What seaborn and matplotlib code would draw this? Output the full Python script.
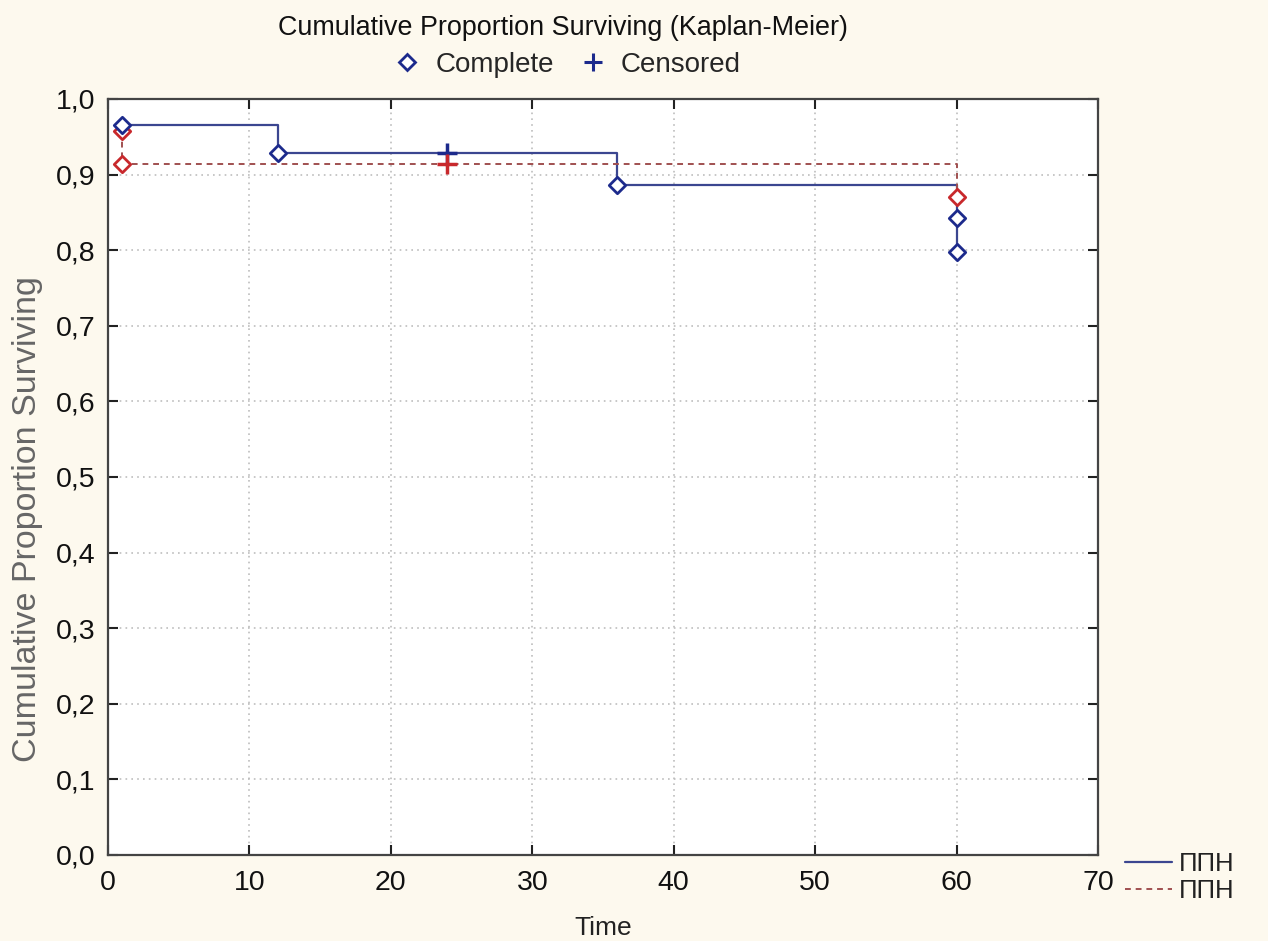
import matplotlib
matplotlib.use("Agg")
import matplotlib.pyplot as plt
from matplotlib.lines import Line2D
import seaborn as sns
import pandas as pd

# ---- data ----
blue_time = [1, 12, 36, 60, 60]
blue_surv = [0.966, 0.928, 0.886, 0.842, 0.797]
blue_complete_time = [1, 12, 36, 60, 60]
blue_complete_surv = [0.966, 0.928, 0.886, 0.842, 0.797]
blue_censored_time = [24]
blue_censored_surv = [0.928]

red_time = [1, 1, 60]
red_surv = [0.958, 0.914, 0.870]
red_complete_time = [1, 1, 60]
red_complete_surv = [0.958, 0.914, 0.870]
red_censored_time = [24]
red_censored_surv = [0.914]

group_labels = ["ППН", "ППН"]
x_ticks = [0, 10, 20, 30, 40, 50, 60, 70]
y_ticks = [0.0, 0.1, 0.2, 0.3, 0.4, 0.5, 0.6, 0.7, 0.8, 0.9, 1.0]
y_tick_labels = ["0,0", "0,1", "0,2", "0,3", "0,4", "0,5", "0,6", "0,7", "0,8", "0,9", "1,0"]

BLUE_LINE = "#3b4690"
BLUE_MARK = "#1c2a8c"
RED_LINE = "#a05050"
RED_MARK = "#c8282c"
BG = "#fdf9ee"

sns.set_theme(style="white")
plt.rcParams["font.family"] = ["Liberation Sans", "DejaVu Sans"]

fig = plt.figure(figsize=(12.68, 9.41), dpi=100, facecolor=BG)
ax = fig.add_axes([108 / 1268, 1 - 855 / 941, (1098 - 108) / 1268, (855 - 99) / 941])
ax.set_facecolor("white")

df_b = pd.DataFrame({"t": blue_time, "s": blue_surv})
df_r = pd.DataFrame({"t": red_time, "s": red_surv})

sns.lineplot(data=df_b, x="t", y="s", ax=ax, sort=False, estimator=None,
             drawstyle="steps-post", color=BLUE_LINE, linewidth=1.6, legend=False)
sns.lineplot(data=df_r, x="t", y="s", ax=ax, sort=False, estimator=None,
             drawstyle="steps-post", color=RED_LINE, linewidth=1.4, linestyle=(0, (3, 2.5)),
             legend=False)

# complete markers
ax.scatter(red_complete_time, red_complete_surv, marker="D", s=70, facecolor="white",
           edgecolor=RED_MARK, linewidth=2.0, zorder=5)
ax.scatter(blue_complete_time, blue_complete_surv, marker="D", s=70, facecolor="white",
           edgecolor=BLUE_MARK, linewidth=2.0, zorder=6)
# censored markers
ax.scatter(blue_censored_time, blue_censored_surv, marker="+", s=220, color=BLUE_MARK,
           linewidth=2.5, zorder=6)
ax.scatter(red_censored_time, red_censored_surv, marker="+", s=220, color=RED_MARK,
           linewidth=2.5, zorder=6)

ax.set_xlim(0, 70)
ax.set_ylim(0, 1.0)
ax.set_xticks(x_ticks)
ax.set_yticks(y_ticks)
ax.set_yticklabels(y_tick_labels)
ax.tick_params(axis="both", which="both", direction="in", length=7, width=1.5,
               top=True, right=True, labelsize=20.5, colors="#222222", pad=9,
               left=True, bottom=True)
ax.tick_params(axis="x", labelcolor="#111111", pad=11)
ax.tick_params(axis="y", labelcolor="#111111")
ax.grid(True, linestyle=(0, (1, 2.5)), color="#bdbdbd", linewidth=1.2)
for sp in ax.spines.values():
    sp.set_color("#444444")
    sp.set_linewidth(1.6)

ax.set_xlabel("Time", fontsize=19, color="#222222")
ax.set_ylabel("Cumulative Proportion Surviving", fontsize=24.5, color="#666666")
ax.xaxis.set_label_coords(0.5, -(928 - 855) / 756, transform=ax.transAxes)
ax.xaxis.label.set_va("center")
ax.yaxis.set_label_coords(-(108 - 28) / 990, (855 - 519) / 756)
ax.yaxis.label.set_va("center")

# bottom-right group legend (figure level)
g1 = Line2D([], [], color=BLUE_LINE, linewidth=1.6)
g2 = Line2D([], [], color=RED_LINE, linewidth=1.4, linestyle=(0, (3, 2.5)))
leg = fig.legend([g1, g2], group_labels, loc="upper left",
                 bbox_to_anchor=(1115 / 1268, 1 - 842 / 941), frameon=False,
                 fontsize=18.5, handlelength=1.8, handletextpad=0.3, labelspacing=0.1,
                 borderaxespad=0)
for txt in leg.get_texts():
    txt.set_color("#222222")

# title and marker legend at top
fig.text(563 / 1268, 1 - 28 / 941, "Cumulative Proportion Surviving (Kaplan-Meier)",
         ha="center", va="center", fontsize=19.4, color="#111111")
h1 = Line2D([], [], marker="D", markersize=8, markerfacecolor="white",
            markeredgecolor=BLUE_MARK, markeredgewidth=2, linestyle="none")
h2 = Line2D([], [], marker="+", markersize=13, color=BLUE_MARK,
            markeredgewidth=2.2, linestyle="none")
fig.legend([h1, h2], ["Complete", "Censored"], loc="center",
           bbox_to_anchor=(567 / 1268, 1 - 65 / 941), ncol=2, frameon=False,
           fontsize=20, handlelength=1.0, handletextpad=0.5, columnspacing=0.9)

fig.savefig("out.png", dpi=100, facecolor=BG)
